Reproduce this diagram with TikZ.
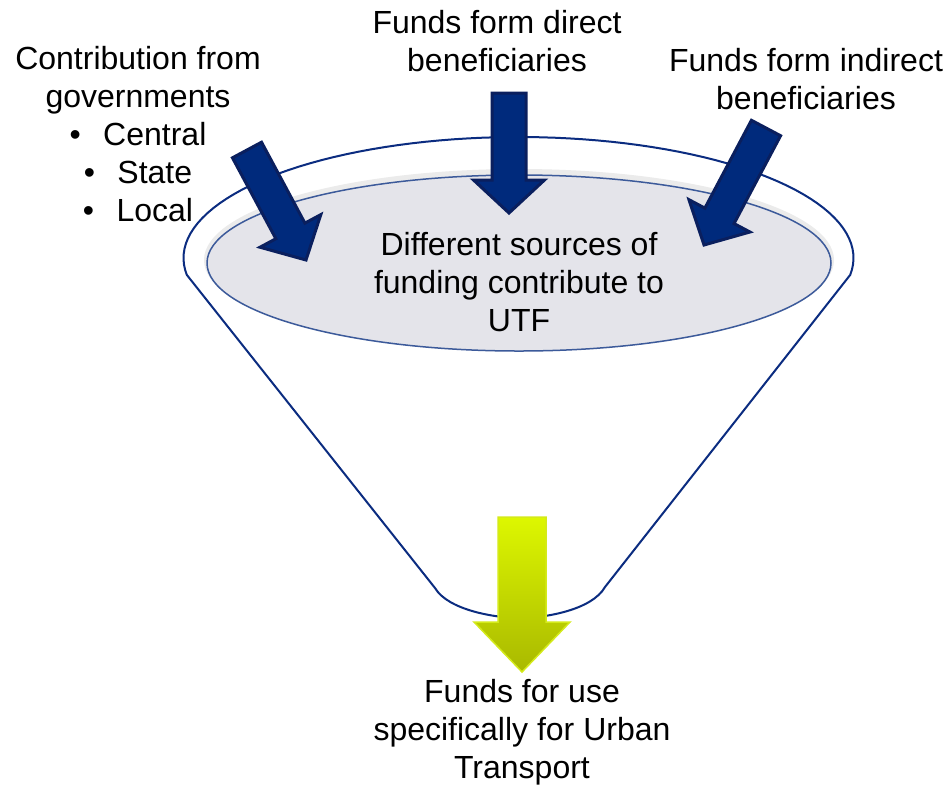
\documentclass[tikz,border=0pt]{standalone}
\usepackage{fontspec}
\setmainfont{Liberation Sans}
\usetikzlibrary{calc,positioning}
\definecolor{funnelblue}{HTML}{0B2C80}
\definecolor{rimblue}{HTML}{3C5A9A}
\definecolor{bowlgray}{HTML}{E4E4EA}
\definecolor{navyfill}{HTML}{002A7C}
\definecolor{navyline}{HTML}{0A1F5E}
\definecolor{limetop}{HTML}{DDF700}
\definecolor{limebottom}{HTML}{A9B900}
\definecolor{limeline}{HTML}{D4EA1A}
\newcommand{\blockarrow}[6]{%
\coordinate (h) at ($(#2)!#5!(#1)$);
\path[#6] ($(#1)!#3!90:(#2)$) -- ($(h)!#3!90:(#2)$) -- ($(h)!#4!90:(#2)$) -- (#2)
  -- ($(h)!#4!-90:(#2)$) -- ($(h)!#3!-90:(#2)$) -- ($(#1)!#3!-90:(#2)$) -- cycle;}

\begin{document}
\begin{tikzpicture}[x=1pt,y=-1pt,
  every node/.style={inner sep=0pt, align=center, font=\fontsize{32}{38}\selectfont},
  funnel/.style={draw=funnelblue, line width=2pt, fill=white},
  bowl/.style={draw=rimblue, line width=1.5pt, fill=bowlgray},
  inarrow/.style={fill=navyfill, draw=navyline, line width=3pt, line join=miter},
  outarrow/.style={top color=limetop, bottom color=limebottom, draw=limeline, line width=1.5pt}]
\useasboundingbox (0,0) rectangle (949,788);
\draw[funnel] plot[domain=-8:188, samples=80] ({518.5+335*cos(\x)},{258-121*sin(\x)})
  -- (435,588) .. controls (448,610) and (495,618) .. (520,618)
  .. controls (545,618) and (592,610) .. (605,587) -- cycle;
\fill[gray!16] (519,260) ellipse [x radius=315pt, y radius=91pt];
\draw[bowl] (519,263) ellipse [x radius=312pt, y radius=88pt];
\node (utf) at (519,282) {Different sources of\\funding contribute to\\UTF};
\node (gov) at (138,134) {Contribution from\\governments\\•\hspace{0.7em}Central\\•\hspace{0.7em}State\\•\hspace{0.7em}Local};
\node (direct) at (497,41) {Funds form direct\\beneficiaries};
\node (indirect) at (806,79) {Funds form indirect\\beneficiaries};
\node (urban) at (522,732) {Funds for use\\specifically for Urban\\Transport};
\coordinate (govtail) at (247,150);
\coordinate (govtip) at (306,260);
\coordinate (directtail) at (509,93);
\coordinate (directtip) at (509,213);
\coordinate (indirecttail) at (766,128);
\coordinate (indirecttip) at (704,245);
\coordinate (urbantail) at (522,517);
\coordinate (urbantip) at (522,672);
\blockarrow{govtail}{govtip}{16.5pt}{34.5pt}{33pt}{inarrow}
\blockarrow{directtail}{directtip}{17pt}{35.5pt}{33pt}{inarrow}
\blockarrow{indirecttail}{indirecttip}{16.5pt}{34.5pt}{33pt}{inarrow}
\blockarrow{urbantail}{urbantip}{24pt}{48pt}{50pt}{outarrow}
\end{tikzpicture}
\end{document}
